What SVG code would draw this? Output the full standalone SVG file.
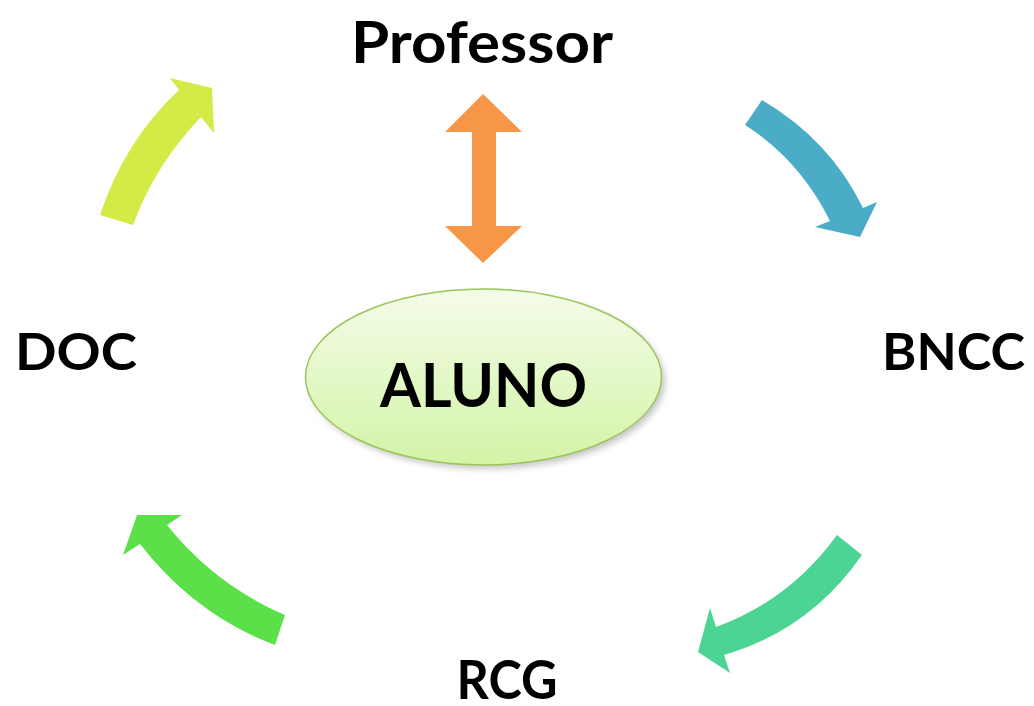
<svg xmlns="http://www.w3.org/2000/svg" width="1034" height="706" viewBox="0 0 1034 706">
  <style>
    .lbl { font-family: Lato, "Open Sans", "Liberation Sans", sans-serif; font-weight: 700; fill: #000; text-anchor: middle; }
  </style>
  <defs>
    <linearGradient id="ovalFill" x1="0" y1="0" x2="0" y2="1">
      <stop offset="0" stop-color="#f4fce9"/>
      <stop offset="1" stop-color="#d3f4a6"/>
    </linearGradient>
    <filter id="softShadow" x="-20%" y="-20%" width="140%" height="140%">
      <feGaussianBlur stdDeviation="3"/>
    </filter>
  </defs>

  <rect width="1034" height="706" fill="#fff"/>

  <!-- cycle arrows and the two-way link -->
  <g id="connectors">
    <path id="arrow-doc-professor" fill="#d4ea46" d="M100,215 Q125,140 179,90 L170,78 L212,88 L214,133 L201,117 Q155,165 133,225 Z"/>
    <path id="arrow-professor-bncc" fill="#4aacc6" d="M762,100 Q830,140 863,208 L877,202 L860,237 L815,227 L830,221 Q800,160 745,125 Z"/>
    <path id="arrow-bncc-rcg" fill="#4cd494" d="M837,535 Q790,600 716,627 L710,608 L698,652 L730,673 L724,655 Q810,630 862,555 Z"/>
    <path id="arrow-rcg-doc" fill="#5ce04a" d="M285,615 Q215,585 167,525 L182,515 L137,515 L123,555 L140,544 Q195,615 275,645 Z"/>
    <polygon id="link-professor-aluno" fill="#f79646" points="483,94 522,132 496,132 496,226 522,226 483,263 445,226 472,226 472,132 445,132"/>
  </g>

  <g id="node-aluno">
    <ellipse cx="487" cy="381" rx="178" ry="88" fill="#9a9a9a" opacity="0.55" filter="url(#softShadow)"/>
    <ellipse cx="483.5" cy="377" rx="178" ry="88" fill="url(#ovalFill)" stroke="#9cc45c" stroke-width="1.5"/>
    <text class="lbl" x="483.5" y="407" font-size="62" textLength="207" lengthAdjust="spacingAndGlyphs">ALUNO</text>
  </g>

  <g id="node-professor">
    <text class="lbl" x="482" y="63" font-size="57" textLength="262" lengthAdjust="spacingAndGlyphs">Professor</text>
  </g>

  <g id="node-doc">
    <text class="lbl" x="76" y="370" font-size="52" textLength="122" lengthAdjust="spacingAndGlyphs">DOC</text>
  </g>

  <g id="node-bncc">
    <text class="lbl" x="953.5" y="370" font-size="52" textLength="143" lengthAdjust="spacingAndGlyphs">BNCC</text>
  </g>

  <g id="node-rcg">
    <text class="lbl" x="507" y="699" font-size="54" textLength="101" lengthAdjust="spacingAndGlyphs">RCG</text>
  </g>
</svg>
